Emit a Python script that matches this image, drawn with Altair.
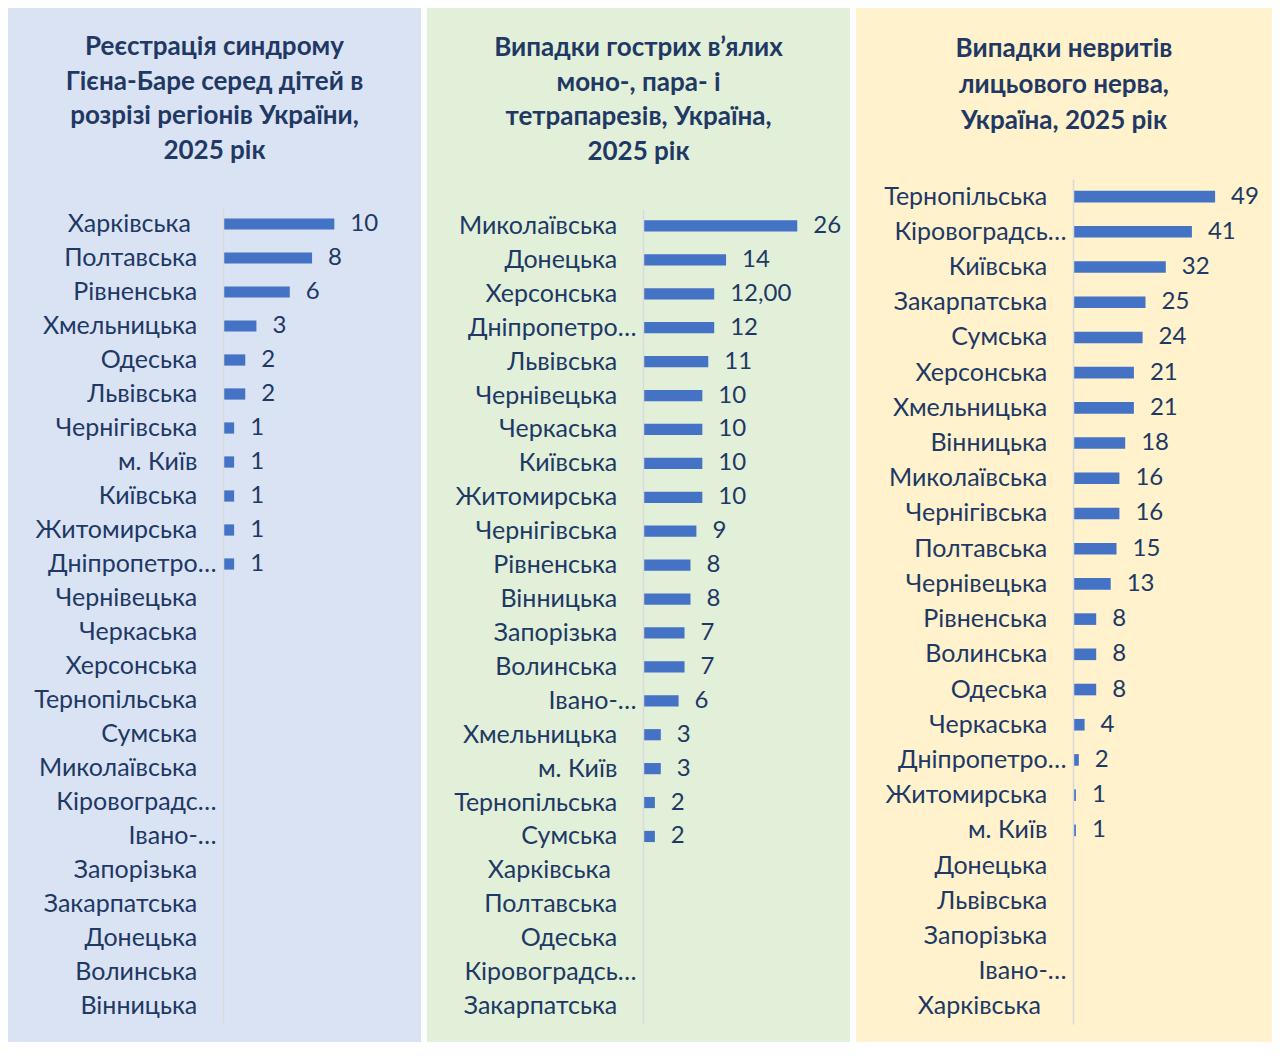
import altair as alt
import pandas as pd

FONT = "Lato"
TITLE_COLOR = "#1F3864"
LABEL_COLOR = "#203864"
BAR_COLOR = "#4472C4"
AXIS_COLOR = "#D9D9D9"

# ---- Panel 1: Guillain-Barré among children ----
p1_title = ["Реєстрація синдрому", "Гієна-Баре серед дітей в", "розрізі регіонів України,", "2025 рік"]
p1_regions = ["Харківська", "Полтавська", "Рівненська", "Хмельницька", "Одеська", "Львівська",
              "Чернігівська", "м. Київ", "Київська", "Житомирська", "Дніпропетро…", "Чернівецька",
              "Черкаська", "Херсонська", "Тернопільська", "Сумська", "Миколаївська", "Кіровоградс…",
              "Івано-…", "Запорізька", "Закарпатська", "Донецька", "Волинська", "Вінницька"]
p1_values = [10, 8, 6, 3, 2, 2, 1, 1, 1, 1, 1, None, None, None, None, None, None, None,
             None, None, None, None, None, None]
p1_label_override = {}

# ---- Panel 2: acute flaccid paresis ----
p2_title = ["Випадки гострих в’ялих", "моно-, пара- і", "тетрапарезів, Україна,", "2025 рік"]
p2_regions = ["Миколаївська", "Донецька", "Херсонська", "Дніпропетро…", "Львівська", "Чернівецька",
              "Черкаська", "Київська", "Житомирська", "Чернігівська", "Рівненська", "Вінницька",
              "Запорізька", "Волинська", "Івано-…", "Хмельницька", "м. Київ", "Тернопільська",
              "Сумська", "Харківська", "Полтавська", "Одеська", "Кіровоградсь…", "Закарпатська"]
p2_values = [26, 14, 12, 12, 11, 10, 10, 10, 10, 9, 8, 8, 7, 7, 6, 3, 3, 2, 2,
             None, None, None, None, None]
p2_label_override = {"Херсонська": "12,00"}

# ---- Panel 3: facial nerve neuritis ----
p3_title = ["Випадки невритів", "лицьового нерва,", "Україна, 2025 рік"]
p3_regions = ["Тернопільська", "Кіровоградсь…", "Київська", "Закарпатська", "Сумська", "Херсонська",
              "Хмельницька", "Вінницька", "Миколаївська", "Чернігівська", "Полтавська", "Чернівецька",
              "Рівненська", "Волинська", "Одеська", "Черкаська", "Дніпропетро…", "Житомирська",
              "м. Київ", "Донецька", "Львівська", "Запорізька", "Івано-…", "Харківська"]
p3_values = [49, 41, 32, 25, 24, 21, 21, 18, 16, 16, 15, 13, 8, 8, 8, 4, 2, 1, 1,
             None, None, None, None, None]
p3_label_override = {}

# Full-length names sit further from the axis than the cut ("…") ones, as in the source.
NB = "\u00a0"
ZW = "\u200b"
LABEL_EXPR = (
    "indexof(datum.label, '…') >= 0 ? datum.label : "
    "(datum.label == 'Харківська' ? datum.label + '" + NB * 4 + ZW + "' : datum.label + '" + NB * 3 + ZW + "')"
)

PLOT_H = 845
BOX_Y = (-171, 863)


def panel(title, regions, values, overrides, bg, width, xmax, yrange, box_x, title_off, line_h):
    texts = [None if v is None else overrides.get(r, str(v)) for r, v in zip(regions, values)]
    df = pd.DataFrame({"region": regions, "value": values, "text": texts})
    ysc = alt.Scale(domain=regions, range=yrange, paddingInner=0.67, paddingOuter=0.335)
    xsc = alt.Scale(domain=[0, xmax], nice=False, zero=True)
    yaxis = alt.Axis(title=None, ticks=False, grid=False, domainColor=AXIS_COLOR, domainWidth=1.5,
                     labelFont=FONT, labelFontSize=25, labelColor=LABEL_COLOR, labelPadding=7,
                     labelLimit=400, labelExpr=LABEL_EXPR, zindex=1)
    y = alt.Y("region:N", sort=None, scale=ysc, axis=yaxis)
    x = alt.X("value:Q", scale=xsc, axis=None)

    background = alt.Chart(pd.DataFrame({"k": [0]})).mark_rect(color=bg).encode(
        x=alt.value(box_x[0]), x2=alt.value(box_x[1]), y=alt.value(BOX_Y[0]), y2=alt.value(BOX_Y[1])
    )
    bars = alt.Chart(df).mark_bar(color=BAR_COLOR).encode(x=x, y=y)
    labels = alt.Chart(df).transform_filter("isValid(datum.value)").mark_text(
        align="left", baseline="middle", dx=16, font=FONT, fontSize=24, color=LABEL_COLOR
    ).encode(x=x, y=y, text="text:N")

    return alt.layer(background, bars, labels).properties(
        width=width, height=PLOT_H,
        title=alt.Title(text=title, font=FONT, fontSize=26, fontWeight="bold", color=TITLE_COLOR,
                        anchor="middle", frame="bounds", baseline="top", offset=-title_off,
                        lineHeight=line_h),
    )


c1 = panel(p1_title, p1_regions, p1_values, p1_label_override, "#DAE3F3",
           167, 15, [28, 844], (-215, 198), 156, 34.7)
c2 = panel(p2_title, p2_regions, p2_values, p2_label_override, "#E2F0D9",
           178, 30, [30, 844], (-216, 207), 157, 34.7)
c3 = panel(p3_title, p3_regions, p3_values, p3_label_override, "#FFF2CC",
           174, 60, [0, 845], (-217, 199), 126, 36)

chart = alt.hconcat(c1, c2, c3, spacing=6).properties(
    padding=0, background="white"
).configure_view(stroke=None)

chart.save("out.html", embed_options={"renderer": "svg", "actions": False})
